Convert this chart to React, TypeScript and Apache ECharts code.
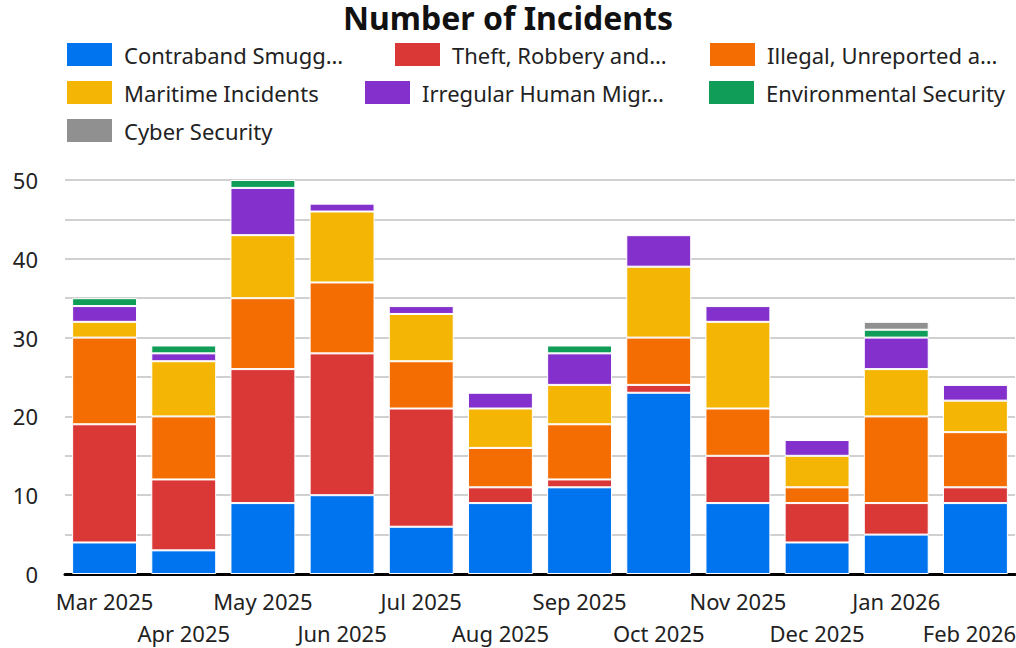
import React, { useEffect, useRef } from "react";
import * as echarts from "echarts";

const months = [
  "Mar 2025", "Apr 2025", "May 2025", "Jun 2025", "Jul 2025", "Aug 2025",
  "Sep 2025", "Oct 2025", "Nov 2025", "Dec 2025", "Jan 2026", "Feb 2026",
];

const seriesNames = [
  "Contraband Smuggling",
  "Theft, Robbery and Piracy",
  "Illegal, Unreported and Unregulated Fishing",
  "Maritime Incidents",
  "Irregular Human Migration",
  "Environmental Security",
  "Cyber Security",
];

const legendLabels = [
  "Contraband Smugg…",
  "Theft, Robbery and…",
  "Illegal, Unreported a…",
  "Maritime Incidents",
  "Irregular Human Migr…",
  "Environmental Security",
  "Cyber Security",
];

const contraband = [4, 3, 9, 10, 6, 9, 11, 23, 9, 4, 5, 9];
const theft = [15, 9, 17, 18, 15, 2, 1, 1, 6, 5, 4, 2];
const fishing = [11, 8, 9, 9, 6, 5, 7, 6, 6, 2, 11, 7];
const maritime = [2, 7, 8, 9, 6, 5, 5, 9, 11, 4, 6, 4];
const migration = [2, 1, 6, 1, 1, 2, 4, 4, 2, 2, 4, 2];
const environmental = [1, 1, 1, 0, 0, 0, 1, 0, 0, 0, 1, 0];
const cyber = [0, 0, 0, 0, 0, 0, 0, 0, 0, 0, 1, 0];

const colors = ["#0073ee", "#da3837", "#f46d03", "#f4b504", "#8330cc", "#0f9d58", "#909090"];

const FONT = "'Noto Sans', sans-serif";

export default function App() {
  const ref = useRef<HTMLDivElement>(null);

  useEffect(() => {
    if (!ref.current) return;
    const chart = echarts.init(ref.current, null, { renderer: "svg" });
    const values = [contraband, theft, fishing, maritime, migration, environmental, cyber];
    const legendPos = [
      [65, 41], [393, 41], [708, 41],
      [65, 79], [363, 79], [707, 79],
      [65, 117],
    ];
    chart.setOption({
      animation: false,
      title: {
        text: "Number of Incidents",
        left: "center",
        top: 1,
        padding: 0,
        textStyle: { fontFamily: FONT, fontSize: 32, fontWeight: "bold", color: "#111" },
      },
      legend: seriesNames.map((n, i) => ({
        data: [n],
        left: legendPos[i][0],
        top: legendPos[i][1],
        padding: 0,
        icon: "rect",
        itemWidth: 47,
        itemHeight: 25,
        selectedMode: false,
        formatter: () => legendLabels[i],
        textStyle: {
          fontFamily: FONT,
          fontSize: 22,
          color: "#222",
          padding: [0, 0, 0, 6],
        },
      })),
      grid: { left: 65, right: 1, top: 180, bottom: 74, containLabel: false, outerBoundsMode: "none" },
      xAxis: {
        type: "category",
        data: months,
        axisLine: { lineStyle: { color: "#000", width: 3 } },
        axisTick: { show: false },
        axisLabel: {
          interval: 0,
          margin: 11,
          fontFamily: FONT,
          fontSize: 22,
          lineHeight: 32,
          color: "#222",
          formatter: (v: string, idx: number) => {
            if (idx === months.length - 1) return "\n{r|" + v + "}";
            return idx % 2 === 1 ? "\n" + v : v;
          },
          rich: {
            r: { fontFamily: FONT, fontSize: 22, lineHeight: 32, color: "#222", padding: [0, 12, 0, 0] },
          },
        },
      },
      yAxis: {
        type: "value",
        min: 0,
        max: 50,
        interval: 5,
        axisLine: { show: false },
        axisTick: { show: false },
        axisLabel: {
          margin: 27,
          fontFamily: FONT,
          fontSize: 22,
          color: "#222",
          formatter: (v: number) => (v % 10 === 0 ? String(v) : ""),
        },
        splitLine: { lineStyle: { color: "#d0d0d0", width: 2 } },
      },
      series: seriesNames.map((n, i) => ({
        name: n,
        type: "bar",
        stack: "total",
        barCategoryGap: "18%",
        data: values[i].map((v) => (v === 0 ? null : v)),
        itemStyle: { color: colors[i], borderColor: "#fff", borderWidth: 1 },
      })),
    });
    return () => chart.dispose();
  }, []);

  return <div ref={ref} style={{ width: 1016, height: 648, position: "absolute", left: 0, top: 0 }} />;
}
